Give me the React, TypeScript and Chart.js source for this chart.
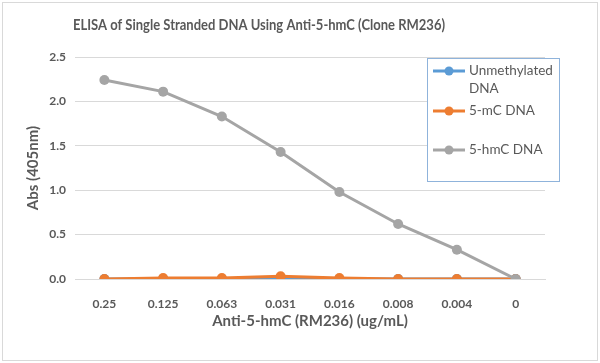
import React, { useEffect, useRef } from "react";
import { Chart, registerables } from "chart.js";

Chart.register(...registerables);

const categories = ["0.25", "0.125", "0.063", "0.031", "0.016", "0.008", "0.004", "0"];
const unmethylated = [0.0, 0.0, 0.0, 0.0, 0.0, 0.0, 0.0, 0.0];
const mC = [0.0, 0.01, 0.01, 0.03, 0.01, 0.0, 0.0, 0.0];
const hmC = [2.24, 2.11, 1.83, 1.43, 0.98, 0.62, 0.33, 0.0];
const seriesNames = ["Unmethylated DNA", "5-mC DNA", "5-hmC DNA"];
const colors = ["#5B9BD5", "#ED7D31", "#A5A5A5"];
const titleText = "ELISA of Single Stranded DNA Using Anti-5-hmC (Clone RM236)";
const xTitle = "Anti-5-hmC (RM236) (ug/mL)";
const yTitle = "Abs (405nm)";

const FONT = "Lato, 'Liberation Sans', sans-serif";

const overlayPlugin = {
  id: "overlay",
  afterDraw(chart: any) {
    const ctx = chart.ctx;
    ctx.save();
    ctx.fillStyle = "#595959";
    ctx.textAlign = "center";
    ctx.textBaseline = "middle";
    // title
    ctx.font = `bold 15px ${FONT}`;
    ctx.fillText(titleText, 259, 25, 372);
    // x title
    ctx.font = `bold 15px ${FONT}`;
    ctx.fillText(xTitle, 310, 321);
    // y title
    ctx.save();
    ctx.translate(33, 168);
    ctx.rotate(-Math.PI / 2);
    ctx.fillText(yTitle, 0, 0);
    ctx.restore();
    // legend box
    ctx.fillStyle = "#ffffff";
    ctx.fillRect(427, 58, 132, 123);
    ctx.strokeStyle = "#8FB3DB";
    ctx.lineWidth = 1;
    ctx.strokeRect(427.5, 58.5, 132, 123);
    const rows = [
      { y: 71, lines: ["Unmethylated", "DNA"] },
      { y: 111, lines: ["5-mC DNA"] },
      { y: 150, lines: ["5-hmC DNA"] },
    ];
    ctx.font = `13.5px ${FONT}`;
    ctx.textAlign = "left";
    rows.forEach((r, i) => {
      ctx.strokeStyle = colors[i];
      ctx.lineWidth = 3;
      ctx.beginPath();
      ctx.moveTo(433, r.y);
      ctx.lineTo(465, r.y);
      ctx.stroke();
      ctx.fillStyle = colors[i];
      ctx.beginPath();
      ctx.arc(449, r.y, 4.5, 0, Math.PI * 2);
      ctx.fill();
      ctx.fillStyle = "#595959";
      r.lines.forEach((t, j) => ctx.fillText(t, 469, r.y + j * 18));
    });
    ctx.restore();
  },
};

export default function App() {
  const ref = useRef<HTMLCanvasElement>(null);
  useEffect(() => {
    document.body.style.margin = "0";
    const data = [unmethylated, mC, hmC];
    const chart = new Chart(ref.current!, {
      type: "line",
      data: {
        labels: categories,
        datasets: data.map((d, i) => ({
          label: seriesNames[i],
          data: d,
          borderColor: colors[i],
          backgroundColor: colors[i],
          borderWidth: 3,
          pointRadius: 5,
          pointHoverRadius: 5,
          pointBorderWidth: 0,
          order: 2 - i,
          tension: 0,
        })),
      },
      options: {
        animation: false,
        responsive: false,
        layout: { padding: { top: 57, right: 55, bottom: 0, left: 0 } },
        plugins: { legend: { display: false }, title: { display: false }, tooltip: { enabled: false } },
        scales: {
          x: {
            offset: true,
            grid: { display: false },
            border: { color: "#D9D9D9" },
            ticks: { color: "#595959", font: { family: FONT, size: 12, weight: "bold" }, padding: 10, maxRotation: 0 },
            afterFit(s: any) { s.height = 84; },
          },
          y: {
            min: 0,
            max: 2.5,
            ticks: {
              stepSize: 0.5,
              color: "#595959",
              font: { family: FONT, size: 12, weight: "bold" },
              padding: 9,
              callback: (v: any) => Number(v).toFixed(1),
            },
            grid: { color: "#D9D9D9", drawTicks: false },
            border: { display: false },
            afterFit(s: any) { s.width = 75; },
          },
        },
      },
      plugins: [overlayPlugin],
    });
    return () => chart.destroy();
  }, []);
  return (
    <div style={{ position: "relative", width: 600, height: 363, boxSizing: "border-box" }}>
      <canvas ref={ref} width={600} height={363} style={{ display: "block" }} />
      <div style={{ position: "absolute", left: 2, top: 2, width: 596, height: 359, border: "1px solid #D9D9D9", boxSizing: "border-box", pointerEvents: "none" }} />
    </div>
  );
}
